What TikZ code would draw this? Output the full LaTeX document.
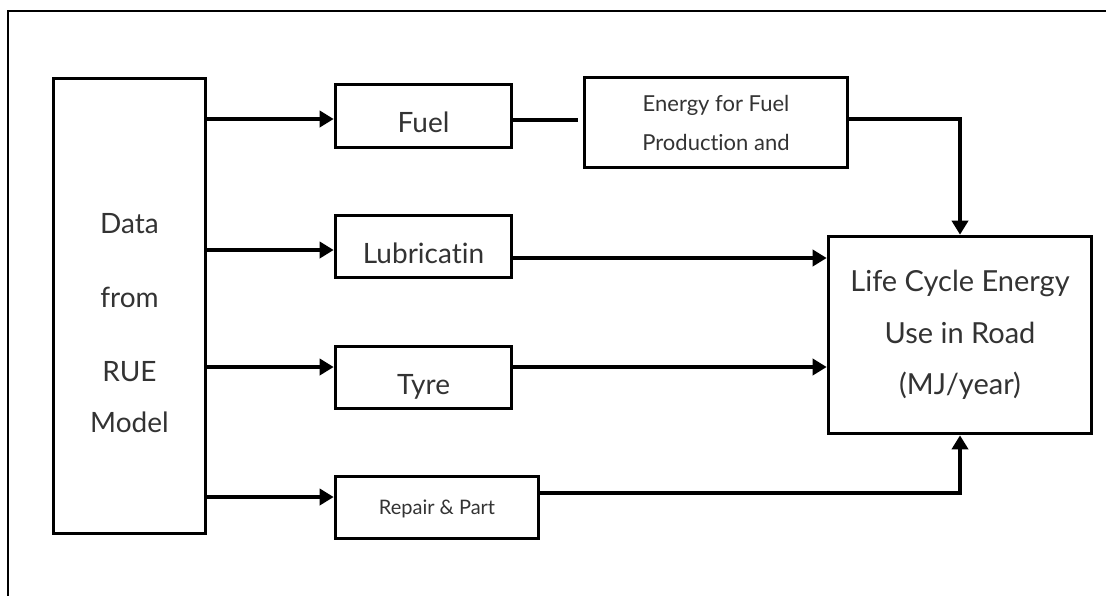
\documentclass[tikz,border=0pt]{standalone}
\usepackage{fontspec}
\setmainfont{Lato}[Ligatures=NoCommon]
\usetikzlibrary{arrows.meta}
\usetikzlibrary{calc}

\tikzset{
  box/.style={draw, line width=1.8pt, inner sep=0pt, align=center, text=black!80},
  bigtxt/.style={font=\fontsize{14pt}{17pt}\selectfont},
  onerow/.style={text height=16.7pt, text depth=0pt},
  arr/.style={line width=1.8pt, -{Triangle[length=7pt,width=8pt]}},
  link/.style={line width=1.8pt},
}

\begin{document}
\begin{tikzpicture}[x=0.5pt,y=-0.5pt]
  \useasboundingbox (0,0) rectangle (1106,595);
  \draw[line width=1.3pt] (8,620) |- (1130,11);

  % source and target
  \node[box, minimum width=76pt, minimum height=227.5pt] (data) at (129.5,306) {};
  \node[text=black!80, align=center, font=\fontsize{14pt}{37pt}\selectfont] (datatext) at (129.5,323)
    {Data\\from\\RUE\\[-11.5pt]Model};
  \node[box, minimum width=131.5pt, minimum height=98.5pt,
        font=\fontsize{14.5pt}{25.75pt}\selectfont] (lce) at (960,335)
    {Life Cycle Energy\\Use in Road\\(MJ/year)};

  % middle boxes
  \node[box, bigtxt, onerow, minimum width=88pt, minimum height=31.5pt] (fuel) at (423.5,116) {Fuel};
  \node[box, minimum width=131.5pt, minimum height=45pt,
        font=\fontsize{11pt}{19.5pt}\selectfont] (energy) at (716,122.5) {Energy for Fuel\\Production and};
  \node[box, bigtxt, onerow, minimum width=88pt, minimum height=31pt] (lub) at (423.5,246.5) {Lubricatin};
  \node[box, bigtxt, onerow, minimum width=88pt, minimum height=31pt] (tyre) at (423.5,377.5) {Tyre};
  \node[box, text height=7.2pt, text depth=0pt, minimum width=101.5pt, minimum height=31pt,
        font=\fontsize{10pt}{12pt}\selectfont] (repair) at (437,507.5) {Repair \& Part};

  % connectors
  \draw[arr] ($(data.east |- fuel.west)+(0,3)$) -- ($(fuel.west)+(0,3)$);
  \draw[link] ($(fuel.east)+(0,4)$) -- ($(energy.west |- fuel.east)+(-5,4)$);
  \draw[arr] ($(energy.east)+(0,-3.5)$) -| (lce.north);
  \draw[arr] ($(data.east |- lub.west)+(0,3.5)$) -- ($(lub.west)+(0,3.5)$);
  \draw[arr] ($(lub.east)+(0,11.5)$) -- ($(lce.west |- lub.east)+(0,11.5)$);
  \draw[arr] ($(data.east |- tyre.west)+(0,-10.5)$) -- ($(tyre.west)+(0,-10.5)$);
  \draw[arr] ($(tyre.east)+(0,-10.5)$) -- ($(lce.west |- tyre.east)+(0,-10.5)$);
  \draw[arr] ($(data.east |- repair.west)+(0,-10.5)$) -- ($(repair.west)+(0,-10.5)$);
  \draw[arr] ($(repair.east)+(0,-14.5)$) -| (lce.south);
\end{tikzpicture}
\end{document}
